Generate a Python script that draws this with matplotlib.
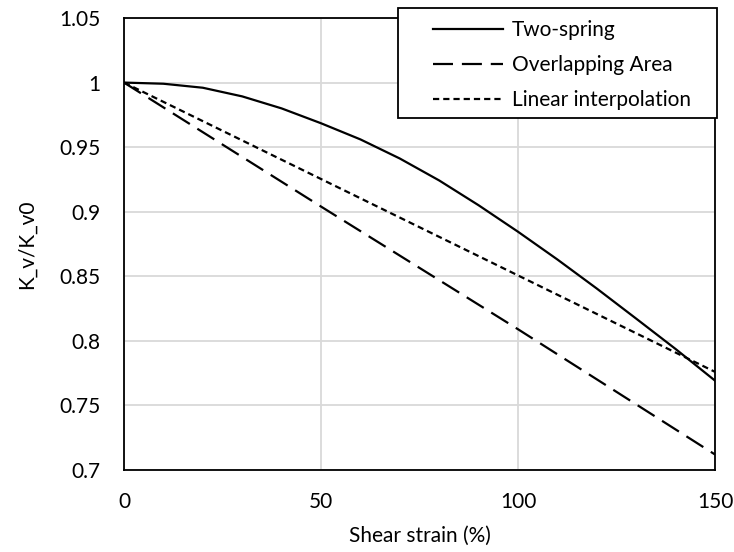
import matplotlib
matplotlib.use("Agg")
import matplotlib.pyplot as plt
from matplotlib.patches import Rectangle
from matplotlib.ticker import FuncFormatter, MultipleLocator

plt.rcParams['font.family'] = ['Lato', 'DejaVu Sans']

# Data
strain_two = [0, 10, 20, 30, 40, 50, 60, 70, 80, 90, 100, 110, 120, 130, 140, 150]
k_two = [1.0, 0.9991, 0.9960, 0.9893, 0.9800, 0.9685, 0.956, 0.9412, 0.9242,
         0.905, 0.8845, 0.863, 0.8405, 0.8172, 0.7937, 0.7692]
strain_overlap = [0, 50, 100, 150]
k_overlap = [1.0, 0.904, 0.809, 0.712]
strain_lin = [0, 150]
k_lin = [1.0, 0.776]

labels = ["Two-spring", "Overlapping Area", "Linear interpolation"]

W, H = 734, 552
fig = plt.figure(figsize=(W/100, H/100), dpi=100)
ax = fig.add_axes([124/W, 1-470/H, (715-124)/W, (470-18)/H])

lw = 1.6
ax.plot(strain_two, k_two, color='black', lw=lw, label=labels[0], zorder=3)
ax.plot(strain_overlap, k_overlap, color='black', lw=lw, linestyle=(0, (9, 4)), label=labels[1], zorder=3)
ax.plot(strain_lin, k_lin, color='black', lw=lw, linestyle=(0, (2.8, 1.8)), label=labels[2], zorder=3)

ax.set_xlim(0, 150)
ax.set_ylim(0.7, 1.05)
ax.xaxis.set_major_locator(MultipleLocator(50))
ax.yaxis.set_major_locator(MultipleLocator(0.05))
ax.yaxis.set_major_formatter(FuncFormatter(lambda v, p: f"{round(v, 2):g}"))
ax.grid(True, color='#d9d9d9', lw=1.3, zorder=0)
ax.set_axisbelow(True)
for s in ax.spines.values():
    s.set_color('black')
    s.set_linewidth(1.3)
ax.tick_params(length=0, labelsize=15, colors='black')
ax.tick_params(axis='y', pad=17)
ax.tick_params(axis='x', pad=16)

ax.set_xlabel("Shear strain (%)", fontsize=15, labelpad=10)
ax.set_ylabel("K_v/K_v0", fontsize=15, labelpad=16)

# Legend box drawn separately so the padding matches the reference
box = Rectangle((398/W, 1-118/H), (717-398)/W, (118-8)/H, transform=fig.transFigure,
                facecolor='white', edgecolor='black', lw=1.3, zorder=3)
fig.patches.append(box)

leg = fig.legend(loc='upper left', bbox_to_anchor=(433/W, 1-20/H),
                 fontsize=15, frameon=False, handlelength=3.36,
                 handletextpad=0.43, borderpad=0, labelspacing=0.72, borderaxespad=0)
leg.set_zorder(5)

fig.savefig("out.png", dpi=100)
